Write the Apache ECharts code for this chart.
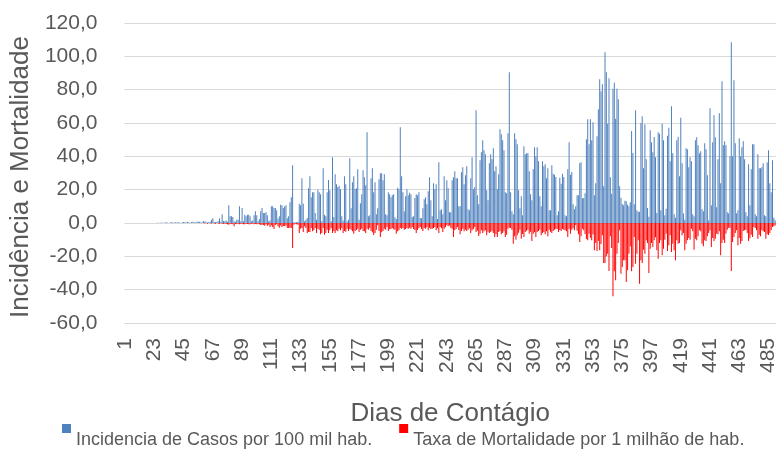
<!DOCTYPE html>
<html>
<head>
<meta charset="utf-8">
<title>Incidência e Mortalidade</title>
<script src="https://cdn.jsdelivr.net/npm/echarts@6/dist/echarts.min.js"></script>
<style>
  html, body { margin: 0; padding: 0; background: #fff; }
  #grafico { width: 779px; height: 449px; }
</style>
</head>
<body>
<div id="grafico"></div>
<script>
// incidência de casos por 100 mil hab., um valor por dia (dia 1 .. 490)
const incidencia = [
  0,0,0,0,0,0,0,0,0,0,
  0,0,0,0,0,0,0,0,0,0,
  0,0,0,0,0.2,0.1,0,0.3,0.2,0,
  0.3,0.4,0.2,0,0.3,0.5,0.3,0.2,0.4,0.3,
  0.5,0.3,0,0.4,0.6,0.5,0.3,0.7,0.4,0.2,
  0.6,0.8,0.5,0.3,0.7,0.9,0.6,0.4,0.5,1,
  1,0.4,0.3,0.6,0.8,2,2.8,0.6,0.5,0.8,
  1,2.8,0.8,5.2,1.2,1,1.5,0.8,10.6,4,
  4,3.6,1,0.8,2,2,10,1,9,1,
  5,4,5,5,4,1,1.5,4.6,7,4.6,
  1,2.4,7,9,6,6,6.4,4.6,1,1.5,
  10,10,9,9,7.6,2.6,4,11,10.6,9,
  10,10.6,2.8,4,12.4,15.4,34.6,0.5,0.3,0.5,
  0.8,11.6,10.6,26.8,11.6,1,2,3,20.8,28,
  15.4,18.4,18.4,6,2,20,18.4,17.2,1,32.8,
  5,4,18.4,25.8,19.6,1,39.4,3.6,29.2,23.2,
  21.6,22.4,20.2,4,1.5,28,23.2,1,2,38.8,
  8.8,24.4,28,20.4,20.8,32.2,2,11.8,17.2,31.6,
  27.4,22.6,54.4,4,4.6,26.8,32.8,18.4,24.4,5.2,
  8.8,26.2,29.8,29.8,25.6,29.2,5.2,4.6,18.4,17.2,
  15.4,16.6,17.2,3.4,2.4,21.2,20.2,57.4,28,18.4,
  7,16,20.2,16.6,18.2,17.2,3.6,4,15,17.2,
  16.6,18.4,3,2.8,8.8,14.2,15.4,11.2,19,27.4,
  13.6,4,23.8,20.2,23.2,2.4,36.4,7.6,8.2,5.2,
  28,13.6,25.6,20.8,6.4,6.4,25.6,27.4,31,26.8,
  26.8,10,10,30.4,33.4,23.2,28.6,34,8.2,7.6,
  26.8,39.4,20.2,21.4,67.6,16.6,11.2,37.6,42.4,49.6,
  43.6,41.2,19.6,13.6,35.8,41.2,38.2,44.8,31,34,
  20.2,29.2,56.2,53.2,49.6,43.6,18.4,17.8,53.8,90.4,
  18.4,7,5.2,53.8,50.2,47.2,19.6,8.8,16,4.6,
  46,41.2,41.8,41.8,31,17.2,13.6,32.2,45.4,40,
  45.4,37,16,10,37,34,35.2,26.8,32.8,7.6,
  7.6,34.6,29.6,29,27.6,4.6,7,27.2,23.6,29.6,
  27.6,4.6,4,32.2,48.4,29,30.6,11.2,8.2,10,
  16.6,16.6,35.8,36.4,14.8,15,17.8,50.2,62.2,47.2,
  62.2,49.6,60.4,16.6,23.8,52,68.2,86.2,79,83.2,
  22,102.4,90.4,59.6,86.8,27.4,17.6,80.6,84.2,62.6,
  80.6,74.2,22,15.2,11.4,10.6,13.4,13,11,10,
  12.4,55.2,42,11.2,67.6,7.6,6.8,6.8,60,64,
  32.8,59.2,38.2,9,3.8,55.6,48.4,42.4,51.6,39.4,
  6,54.4,53.6,7.6,59.6,49.6,4.6,8.6,52.4,57.2,
  37,70,41.8,5.2,3.2,49.6,51.8,28,63.2,35.8,
  5.8,2,44.8,44.2,33.4,39.4,37,5.2,4,49.6,
  51.4,46.6,41.8,43,8.2,7,47.8,44.2,28.6,1.6,
  68.8,10.6,48.4,64.6,51.4,9.4,38.2,65.8,23.8,85,
  46.6,49,46.6,6.4,5.8,40,108.4,40,85.6,47.8,
  5.8,7.6,50.8,40,45.4,49,38.2,6.4,4,35.2,
  10.6,32.2,47.2,47.2,5.2,4,41.2,32.8,32.8,33.4,
  35.8,4.6,4,36.4,43.6,23.8,18.4,37.6,3.2,1.6
];

// taxa de mortalidade por 1 milhão de hab. (desenhada para baixo, valores negativos)
const mortalidade = [
  0,0,0,0,0,0,0,0,0,0,
  0,0,0,0,0,0,0,0,0,0,
  0,0,0,0,0,0,0,0,0,0,
  0,0,0,0,0,0,0,0,0,0,
  0,0,0,0,0,0,0,0,0,0,
  0,0,0,0,0,0,0,0,0,0,
  -0.3,0,-0.5,0,-0.2,-0.3,0,-0.3,-0.4,0,
  -0.3,-0.5,-0.2,-0.4,-0.5,-0.3,-0.6,-0.8,-1,-0.6,
  -0.5,-0.8,-2,-0.5,-0.6,-0.4,-0.7,-0.5,-0.6,-0.8,
  -0.8,-0.5,-0.6,-0.8,-0.7,-0.5,-0.4,-0.8,-0.6,-0.7,
  -0.5,-0.8,-1.2,-1,-1.2,-1.6,-0.8,-1.6,-1,-2.4,
  -1.5,-2.4,-3.6,-1.2,-0.8,-2,-2.8,-1.5,-2.4,-1.8,
  -2,-1.5,-3,-3,-2.8,-3,-15,-1,-0.5,-0.8,
  -1,-6,-3.4,-3,-5.4,-2,-3,-6,-5.4,-5.4,
  -3,-5,-4.4,-3,-6,-3.5,-4,-6.8,-6,-3,
  -7,-6,-4,-6,-4.4,-3,-6,-4.8,-6,-4.4,
  -5,-3.4,-4.4,-3,-6,-4.8,-5.2,-3.4,-4.8,-3.6,
  -4,-5,-6.4,-4.8,-4.2,-3.4,-5.4,-4,-3.4,-4.8,
  -5,-6,-3.4,-4,-3,-4.8,-5.5,-7.2,-6,-4,
  -1.4,-4.8,-8.4,-5.6,-4.8,-3.4,-4,-2.4,-4.8,-3.8,
  -3.6,-3,-3.8,-4,-6.4,-5,-4.4,-3,-3.4,-3,
  -4,-3.6,-3,-3.4,-2.8,-3.4,-2.4,-3.6,-4.2,-6,
  -4.2,-3.2,-2.4,-3.6,-4.8,-3,-3.4,-2.6,-4.4,-2.8,
  -3.6,-3.4,-3,-2.4,-4.4,-3.2,-6,-2.4,-3.2,-5.4,
  -3.4,-2.5,-1.4,-2,-1.5,-2.8,-3.4,-8.4,-4.4,-3.6,
  -2.4,-4.2,-6.8,-4.8,-3.4,-5,-4,-4.8,-4,-3.2,
  -6,-4.4,-3.6,-2.4,-5.4,-4.6,-7.8,-6.4,-4.4,-6,
  -5,-4.4,-7.4,-5.2,-6,-5.4,-4.6,-6,-8.4,-6.6,
  -8.4,-5.4,-4.8,-6.8,-6,-5,-8.4,-7,-3.4,-2.8,
  -3,-4,-12.4,-8,-10,-7.4,-5.8,-4,-9.4,-6.6,
  -8.4,-5.4,-4.6,-4,-6.4,-5.2,-10.8,-6.4,-5.6,-8.4,
  -5.4,-4.8,-4,-7.4,-6,-5.4,-6.8,-5,-8,-4,
  -5.2,-6,-4.8,-4,-3.4,-3.6,-5.4,-4.2,-4.8,-3.6,
  -4,-4.4,-5,-8.4,-3.4,-6.4,-4,-3.2,-4.4,-1.4,
  -4.6,-6.8,-11.4,-8,-3.4,-4.4,-6.6,-9.6,-10.4,-6.4,
  -8.8,-10.4,-6.8,-16.4,-12,-16.8,-10.8,-16.4,-12.6,-7.4,
  -24,-24,-20,-18.4,-28.8,-8,-15,-44,-29,-34.4,
  -18.4,-12,-4.4,-30.4,-26.4,-22.4,-22.4,-35.4,-28.4,-18.4,
  -14,-29,-26.4,-8.4,-24.4,-18.4,-10.4,-36.4,-22.4,-24,
  -16,-18.4,-10.4,-12,-30,-15.4,-12,-14.4,-10.4,-8.6,
  -16.4,-21.4,-12,-10.4,-19.4,-15.4,-10,-6.4,-16.8,-13.4,
  -7.4,-17.4,-12.4,-16.4,-22.4,-10.4,-12.4,-12,-4.4,-7.4,
  -6,-16.4,-12.4,-10.4,-9,-10,-3.4,-5,-16,-9.4,
  -10.4,-8,-4.4,-5,-12.4,-14,-10.4,-10.8,-8,-6,
  -4.4,-14.4,-9,-10.8,-9.4,-6.4,-6.8,-5,-19.4,-12,
  -10,-12,-6.4,-4,-2.8,-3,-28.8,-11.4,-8.4,-6,
  -4.4,-13.4,-9,-12.4,-10.8,-4.8,-4.4,-4,-6,-10.8,
  -9.2,-7,-8.4,-2.4,-3,-4.4,-9.4,-7,-8,-4.4,
  -5,-5.4,-9.4,-6.8,-7.2,-6,-4.4,-2.4,-2,-1.5
];

// rótulos do eixo x: dias 1, 2, 3 ...
const dias = incidencia.map((v, i) => String(i + 1));

const nomesSeries = ['Incidencia de Casos por 100 mil hab.', 'Taxa de Mortalidade por 1 milhão de hab.'];

const fonte = 'Liberation Sans, Arial, sans-serif';
const corTexto = '#595959';

// quadradinho da legenda fica acima do centro do texto, como no original
const iconeLegenda = 'path://M0,0h9v9h-9z M0,33h0.01v0.01h-0.01z';

let myChart = echarts.init(document.getElementById('grafico'));
myChart.setOption({
  animation: false,
  grid: {
    left: 124,
    right: 0,
    top: 23,
    height: 300
  },
  legend: {
    data: nomesSeries,
    left: 57,
    top: 419,
    icon: iconeLegenda,
    itemWidth: 9,
    itemHeight: 33,
    itemGap: 27,
    textStyle: {
      fontFamily: fonte,
      fontSize: 18,
      color: corTexto
    }
  },
  xAxis: {
    type: 'category',
    data: dias,
    name: 'Dias de Contágio',
    nameLocation: 'middle',
    nameGap: 78,
    nameTextStyle: { fontFamily: fonte, fontSize: 26, color: corTexto },
    axisLine: { show: false, onZero: false },
    axisTick: { show: false },
    axisLabel: {
      interval: 21,
      rotate: 90,
      margin: 15,
      fontFamily: fonte,
      fontSize: 21,
      color: corTexto
    }
  },
  yAxis: {
    type: 'value',
    min: -60,
    max: 120,
    interval: 20,
    name: 'Incidência e Mortalidade',
    nameLocation: 'middle',
    nameGap: 83,
    nameTextStyle: { fontFamily: fonte, fontSize: 26, color: corTexto, padding: [0, 8, 0, 0] },
    axisLine: { show: false },
    axisTick: { show: false },
    splitLine: { lineStyle: { color: '#D9D9D9', width: 1 } },
    axisLabel: {
      margin: 27,
      fontFamily: fonte,
      fontSize: 21,
      color: corTexto,
      formatter: v => v.toFixed(1).replace('.', ',')
    }
  },
  series: [
    {
      name: nomesSeries[0],
      type: 'bar',
      data: incidencia,
      barWidth: 1,
      barGap: '-100%',
      itemStyle: { color: '#4F81BD' }
    },
    {
      name: nomesSeries[1],
      type: 'bar',
      data: mortalidade,
      barWidth: 1,
      barGap: '-100%',
      itemStyle: { color: '#FF0000' }
    }
  ]
});
</script>
</body>
</html>
